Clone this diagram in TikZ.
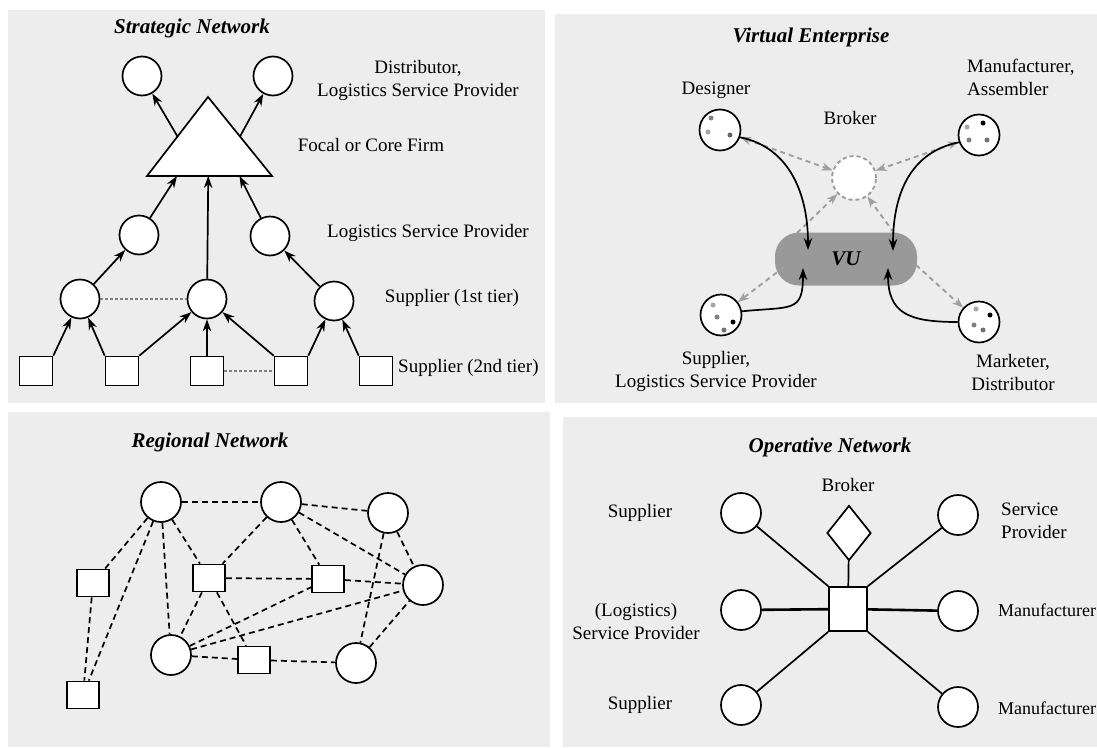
\documentclass[tikz,border=0pt]{standalone}
\usepackage{fontspec}
\setmainfont{Liberation Serif}
\usetikzlibrary{arrows.meta,shapes.geometric,calc}

\tikzset{
  panel/.style={fill=black!7,draw=none},
  ttl/.style={font=\fontsize{21}{24}\selectfont\bfseries\itshape,inner sep=0pt},
  lbl/.style={font=\fontsize{19}{23}\selectfont,align=center,inner sep=0pt},
  firm/.style={circle,draw,line width=1.7pt,fill=white,minimum size=39pt,inner sep=0pt},
  box/.style={rectangle,draw,line width=1.7pt,fill=white,minimum width=33pt,minimum height=29pt,inner sep=0pt},
  flow/.style={->,line width=1.7pt},
  weak/.style={gray,line width=1.2pt,dash pattern=on 3pt off 2pt},
  link/.style={line width=1.7pt,dash pattern=on 6pt off 4pt},
  vlink/.style={gray!75,line width=1.9pt,dash pattern=on 5pt off 4pt,
    arrows={-{Stealth[length=11pt,width=8pt]}}},
  dot/.style={circle,inner sep=0pt,minimum size=5pt}
}

\begin{document}
\begin{tikzpicture}[x=1pt,y=-1pt,>={Stealth[length=12pt,width=8.5pt]}]
  \useasboundingbox (0,0) rectangle (1097,747);
  \fill[panel] (8,10) rectangle (545,403);
  \fill[panel] (555,14) rectangle (1097,403);
  \fill[panel] (8,412) rectangle (550,747);
  \fill[panel] (563,417) rectangle (1097,747);

  % strategic network
  \node[ttl] (stitle) at (192,28) {Strategic Network};
  \node[firm] (d1) at (142,76) {};
  \node[firm] (d2) at (273,76) {};
  \coordinate (ftop) at (208,97);
  \coordinate (fleft) at (147,176);
  \coordinate (fright) at (272,176);
  \draw[line width=1.7pt,fill=white] (ftop) -- (fleft) -- (fright) -- cycle;
  \node[firm] (l1) at (139,235) {};
  \node[firm] (l2) at (270,236) {};
  \node[firm] (t1) at (80,299) {};
  \node[firm] (t2) at (207,299) {};
  \node[firm] (t3) at (334,301) {};
  \node[box] (b1) at (36,371) {};
  \node[box] (b2) at (122,371) {};
  \node[box] (b3) at (207,371) {};
  \node[box] (b4) at (291,371) {};
  \node[box] (b5) at (376,371) {};
  \node[lbl] (ldist) at (418,80) {Distributor,\\Logistics Service Provider};
  \node[lbl] (lfocal) at (371,145) {Focal or Core Firm};
  \node[lbl] (llsp) at (428,233) {Logistics Service Provider};
  \node[lbl] (ltier1) at (452,298) {Supplier (1st tier)};
  \node[lbl,anchor=west] (ltier2) at (398,368) {Supplier (2nd tier)};
  \draw[flow] ($(fleft)!0.5!(ftop)$) -- (d1);
  \draw[flow] ($(fright)!0.5!(ftop)$) -- (d2);
  \draw[flow] (l1) -- ($(fleft)!0.24!(fright)$);
  \draw[flow] (l2) -- ($(fleft)!0.74!(fright)$);
  \draw[flow] (t2) -- ($(fleft)!0.49!(fright)$);
  \draw[flow] (t1) -- (l1);
  \draw[flow] (t3) -- (l2);
  \draw[flow] (b1.north east) -- (t1);
  \draw[flow] (b2.north west) -- (t1);
  \draw[flow] (b2.north east) -- (t2);
  \draw[flow] (b3) -- (t2);
  \draw[flow] (b4.north west) -- (t2);
  \draw[flow] (b4.north east) -- (t3);
  \draw[flow] (b5.north west) -- (t3);
  \draw[weak] (t1) -- (t2);
  \draw[weak] (b3) -- (b4);

  % virtual enterprise
  \node[ttl] (vtitle) at (811,37) {Virtual Enterprise};
  \node[lbl] (ldes) at (716,90) {Designer};
  \node[lbl,align=left,anchor=west] (lman) at (967,77) {Manufacturer,\\Assembler};
  \node[lbl] (lbrk) at (850,118) {Broker};
  \node[lbl] (lsup) at (716,371) {Supplier,\\Logistics Service Provider};
  \node[lbl] (lmar) at (1013,372) {Marketer,\\Distributor};
  \node[firm,minimum size=41pt] (des) at (720,130) {};
  \node[firm,minimum size=41pt] (man) at (979,135) {};
  \node[firm,minimum size=41pt] (sup) at (721,315) {};
  \node[firm,minimum size=41pt] (mar) at (979,322) {};
  \node[circle,draw,gray!80,line width=1.8pt,dash pattern=on 4pt off 3pt,fill=white,
    minimum size=44pt] (brk) at (854,178) {};
  \node[fill=black!40,rounded corners=24pt,minimum width=142pt,minimum height=53pt,
    font=\fontsize{21}{24}\selectfont\bfseries\itshape] (vu) at (846,259) {VU};
  \foreach \c/\dx/\dy/\col in {des/-9/-12/gray, des/-12/2/gray!70, des/10/5/black!60,
      man/4/-12/black, man/-12/-8/gray!70, man/-10/5/gray, man/8/5/black!55,
      sup/-8/-10/gray!70, sup/-4/2/gray, sup/12/7/black, sup/3/15/black!55,
      mar/-3/-13/gray!70, mar/11/-7/black, mar/-5/3/gray, mar/4/8/black!55}
    \node[dot,fill=\col] at ($(\c)+(\dx,\dy)$) {};
  \draw[vlink,{Stealth[length=11pt,width=8pt]}-{Stealth[length=11pt,width=8pt]}] (des) -- (brk);
  \draw[vlink,{Stealth[length=11pt,width=8pt]}-{Stealth[length=11pt,width=8pt]}] (man) -- (brk);
  \draw[vlink] ($(vu)+(-49,-26)$) -- (brk);
  \draw[vlink] ($(vu)+(48,-26)$) -- (brk);
  \draw[vlink] ($(vu)+(-62,8)$) -- (sup);
  \draw[vlink] ($(vu)+(70,6)$) -- (mar);
  \draw[flow] (des.-20) .. controls +(50,10) and +(0,-55) .. ($(vu)+(-38,-9)$);
  \draw[flow] (man.200) .. controls +(-50,10) and +(0,-55) .. ($(vu)+(47,-8)$);
  \draw[flow] (sup.10) .. controls +(50,-5) and +(0,45) .. ($(vu)+(-43,9)$);
  \draw[flow] (mar.180) .. controls +(-50,0) and +(0,45) .. ($(vu)+(42,9)$);

  % regional network
  \node[ttl] (rtitle) at (210,442) {Regional Network};
  \node[firm,minimum size=40pt] (c1) at (161,502) {};
  \node[firm,minimum size=40pt] (c2) at (281,502) {};
  \node[firm,minimum size=40pt] (c3) at (388,513) {};
  \node[firm,minimum size=40pt] (c4) at (423,585) {};
  \node[firm,minimum size=40pt] (c5) at (171,655) {};
  \node[firm,minimum size=40pt] (c6) at (356,663) {};
  \node[box,minimum width=32pt,minimum height=27pt] (s1) at (93,583) {};
  \node[box,minimum width=32pt,minimum height=27pt] (s2) at (209,578) {};
  \node[box,minimum width=32pt,minimum height=27pt] (s3) at (328,579) {};
  \node[box,minimum width=32pt,minimum height=27pt] (s4) at (254,660) {};
  \node[box,minimum width=32pt,minimum height=27pt] (s5) at (83,695) {};
  \foreach \a/\b in {c1/c2, c2/c3, c2/c4, c2/s2, c2/s3, c1/s1, c1/s2, c1/c5,
      c1/s5, s1/s5, s2/s3, s3/c4, s2/c5, s2/s4, c5/s4, c5/s3, c5/c4, s4/c6,
      c3/c6, c3/c4, c6/c4}
    \draw[link] (\a) -- (\b);

  % operative network
  \node[ttl] (otitle) at (830,447) {Operative Network};
  \node[lbl] (lbroker) at (848,485) {Broker};
  \node[diamond,draw,line width=1.7pt,fill=white,inner sep=0pt,
    minimum width=44pt,minimum height=55pt] (dia) at (849,533) {};
  \node[box,minimum width=38pt,minimum height=44pt] (hub) at (848,609) {};
  \node[firm,minimum size=40pt] (o1) at (741,513) {};
  \node[firm,minimum size=40pt] (o2) at (741,610) {};
  \node[firm,minimum size=40pt] (o3) at (741,705) {};
  \node[firm,minimum size=40pt] (o4) at (958,515) {};
  \node[firm,minimum size=40pt] (o5) at (958,611) {};
  \node[firm,minimum size=40pt] (o6) at (958,707) {};
  \node[lbl] (lo1) at (640,513) {Supplier};
  \node[lbl] (lo2) at (636,621) {(Logistics)\\Service Provider};
  \node[lbl] (lo3) at (640,705) {Supplier};
  \node[lbl,align=left,anchor=west] (lo4) at (1001,521) {Service\\Provider};
  \node[lbl,anchor=west,font=\fontsize{18}{21}\selectfont] (lo5) at (998,610) {Manufacturer};
  \node[lbl,anchor=west,font=\fontsize{18}{21}\selectfont] (lo6) at (998,708) {Manufacturer};
  \draw[line width=1.7pt] (dia) -- (hub);
  \draw[line width=1.7pt] (o1) -- (hub.north west);
  \draw[line width=2.6pt] (o2) -- (hub);
  \draw[line width=1.7pt] (o3) -- (hub.south west);
  \draw[line width=1.7pt] (o4) -- (hub.north east);
  \draw[line width=2.6pt] (o5) -- (hub);
  \draw[line width=1.7pt] (o6) -- (hub.south east);
\end{tikzpicture}
\end{document}
